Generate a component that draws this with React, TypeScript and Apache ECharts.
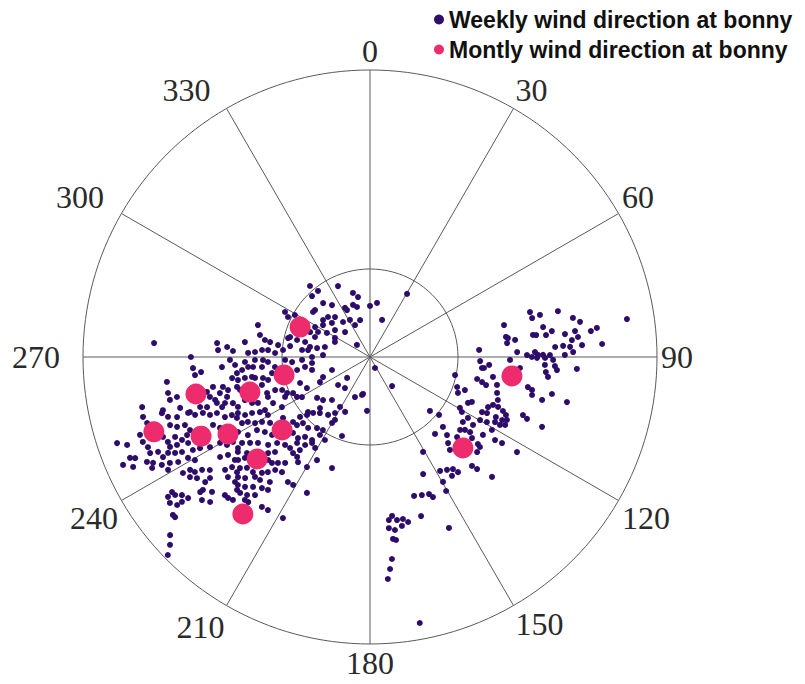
import React, { useEffect, useRef } from "react";
import * as echarts from "echarts";

// Angle axis: degrees, clockwise from north, labelled every 30
const angleStep = 30;
const radiusMax = 100;

// Weekly wind direction points: [radius, angle (deg)]
const weeklyCore: number[][] = [
  [32.4,319.8],[27.1,335.7],[29.3,321.8],[23.1,345.1],[21.3,348.7],[29.3,316.4],[24.9,319.0],[22.4,323.8],[19.2,333.0],[19.1,341.9],
  [25.2,310.5],[25.3,308.3],[20.2,313.6],[18.5,318.8],[20.8,308.2],[15.4,322.4],[14.7,331.6],[13.3,344.9],[33.5,297.9],[31.8,296.0],
  [30.0,299.2],[21.8,298.6],[19.8,304.2],[17.8,311.8],[15.4,307.6],[12.3,315],[20.1,295.7],[17.2,299.2],[22.6,292.6],[20.4,290],
  [13.9,298.5],[13.3,293.2],[16.1,282.5],[21.2,279.5],[18.7,279.6],[23.2,283],[26.1,283.1],[29.3,283],[28.1,277.8],[23.8,275.9],
  [21.7,276.4],[30.4,274.6],[32.3,277.4],[40.6,285.9],[43.9,276.8],[39.1,281.3],[37.1,279.2],[35.2,278.5],[35.6,273.9],[33.1,272.4],
  [37.7,273.7],[40.1,272.5],[42.5,271.9],[20.2,270],[16.4,272.4],[14.0,251.1],[10.8,227.6],[14.8,228.8],[13.9,218.9],[14.9,200.6],
  [13.1,190.7],[17.8,246.9],[19.5,243.4],[20.7,257.4],[22.9,261.3],[25.8,259.9],[28.7,256],[26.0,249.6],[24.5,243.8],[29.6,244.9],
  [27.5,239.5],[23.3,232.3],[20.0,221.5],[24.9,224.4],[28.9,228.4],[35.6,267.2],[37.8,264.7],[42.6,265.3],[44.8,264.2],[34.6,260.7],
  [36.4,257.3],[38.9,255.5],[35.0,250.8],[38.2,248.6],[37.4,244.6],[35.3,240.4],[32.7,244.8],[32.7,249.4],[46.7,260.1],[46.7,255.8],
  [46.1,251],[44.1,248.7],[42.2,247.7],[41.0,243.2],[49.2,249.3],[40.7,259.7],[33.3,264],[29.6,268],[27.2,266.3],[23.7,267.5],
  [20.3,264.1],[40.1,268.5],[43.6,267.7],
  [25.5,30.4],[19.0,7.4],[13.6,18],[4.2,155.6],[12.7,142.8],[18.8,183.2],[17.8,0],[18.0,345.4],[18.2,333.9],[12.3,334.9],[6.2,312.7],
  [20.3,211],[22.2,227.5],[13.5,191.9],
];

const weeklyWest: number[][] = [
  [75.4,273.7],[62.4,270],[53.5,275.2],[53.0,272.6],[49.9,274.0],[47.8,272.5],[61.8,266.4],[59.1,264.9],[61.3,264.1],[71.3,263],
  [51.7,266.1],[48.8,268.8],[47.1,266.6],[46.7,263.1],[48.6,261.3],[52.3,258.5],[55.7,259.2],[58.1,257.9],[57.5,256],[53.8,256.5],
  [50.8,256.9],[47.5,257.3],[71.5,259.9],[71.3,257.9],[68.7,258.3],[81.3,257.6],[68.5,255],[65.6,253],[61.7,253.6],[59.4,252.9],
  [55.7,253.3],[53.0,252.4],[50.4,251.4],[74.5,255.6],[56.0,254.5],[51.7,254.4],[54.4,251.3],[40.9,265.1],[37.3,268.4],[38.0,250.7],
  [31.5,246.5],[29.0,241.3],[28.7,284],[38.0,258.9],[44.2,260.5],[41.7,260.4],
];

const weeklySouthWest: number[][] = [
  [81.8,255.2],[75.1,254.9],[73.4,253.5],[70.4,252.7],[66.3,252.9],[64.2,251.7],[61.4,251.5],[59.3,250.1],[56.8,249.9],[54.7,247.5],
  [52.2,247.2],[51.0,245.4],[81.0,253.5],[73.6,251.2],[71.5,250.1],[68.7,249.8],[67.7,247.9],[59.6,246.6],[57.8,244.7],[93.1,251.2],
  [90.0,250.1],[84.6,251.3],[84.5,249.5],[83.5,247.9],[77.3,248.9],[76.4,247.2],[73.4,247.7],[71.6,246.2],[69.3,246.9],[70.1,244.7],
  [76.4,245.8],[73.9,245.5],[83.6,246.4],[80.9,245.9],[80.1,244.2],[77.9,244.6],[75.7,243.8],[73.4,243.2],[69.7,242.3],[67.2,241.8],
  [64.0,240.6],[60.2,240.2],[58.5,238.4],[56.2,238.2],[55.9,235.4],[90.7,247.2],[89.1,246.7],[93.9,246.4],[91.0,245.1],[85.9,244.8],
  [84.1,244],[81.7,242.6],[78.9,242.1],[76.2,241.3],[72.5,241],[70.8,239.5],[62.8,236.3],[60.1,235.4],[59.2,232.7],[85.2,243],
  [80.6,240.8],[76.7,238.2],[74.0,237.9],[73.0,236.7],[70.5,236.1],[68.3,234.8],[75.4,236.3],[73.6,235],[69.9,232.9],[64.0,232.1],
  [61.5,231.4],[61.3,229.1],[64.8,229.8],[64.1,227.2],[65.5,225],[72.1,232.8],[74.4,231.5],[75.6,231.5],[72.4,229.5],[76.9,229.6],
  [75.2,227.8],[69.8,226.4],[69.7,225.2],[69.0,223.8],[83.5,235.7],[85.6,235.3],[83.2,234.7],[81.3,233.7],[80.2,232.2],[86.3,233.9],
  [84.7,232.5],[82.7,232.4],[88.0,231.3],[87.9,230.6],[93.3,228.3],[95.6,226.8],[98.6,225.6],
];

const weeklySouthWestInner: number[][] = [
  [50.0,247],[48.0,245.1],[45.5,244.6],[42.9,243.4],[40.9,240.4],[37.0,235],[35.1,229.8],[32.1,229.4],[29.8,227.4],[27.8,225.5],
  [26.2,221.8],[24.9,215.9],[23.0,212],[21.0,204.4],[50.2,242.7],[48.2,242],[46.2,240.1],[43.9,239],[41.7,236.6],[34.8,227],
  [32.8,225.4],[32.8,221.1],[30.9,216.7],[30.3,212.8],[26.5,209.9],[25.1,209.1],[52.9,240.4],[50.5,237.4],[46.9,237.1],[45.0,234.5],
  [43.6,231.5],[37.7,225.4],[37.8,221.6],[35.9,219.1],[35.3,214.9],[32.3,212.7],[32.9,208.5],[29.2,199.5],[53.7,236.1],[51.4,234.4],
  [49.2,232.5],[46.9,229.2],[44.1,227.2],[42.6,224],[42.2,221.3],[39.3,220.3],[38.1,216.4],[36.1,214],[37.0,211.1],[56.7,234.3],
  [54.4,232],[48.8,226.7],[46.8,225],[42.9,218.7],[40.6,217],[43.1,216.1],[44.4,214.4],[58.3,232],[56.0,231.1],[50.5,224.7],
  [50.3,222.8],[48.9,221],[47.3,218.7],[40.4,207.2],[44.2,209.8],[40.9,198.9],[59.6,229.5],[57.7,228],[57.2,225.5],[55.2,223],
  [53.6,221.6],[51.4,220],[50.5,217.4],[52.1,213.3],[52.0,211],[52.2,204.9],[62.2,227.7],[60.6,225.9],[57.9,223.8],[57.5,221.8],
  [55.8,218.7],[64.1,225.9],[62.8,223.9],[60.9,222],[59.2,219.5],[58.4,217.5],[65.5,223.7],[64.4,221.7],[62.6,219.8],[66.2,221.2],
  [66.0,220],[64.4,215.8],[64.1,213.7],[63.8,208.4],
];

const weeklyEast: number[][] = [
  [57.9,74.3],[61.0,76.1],[67.4,76.3],[58.1,76.5],[72.0,79.1],[74.2,80.5],[90.5,81.6],[79.7,82.7],[77.5,83.3],[48.0,76.6],
  [61.2,80.2],[64.0,81.9],[68.4,83.3],[72.0,82.8],[72.8,84.5],[70.6,85.2],[57.3,82.3],[58.4,82.5],[61.8,82.9],[47.9,81.6],
  [48.5,82.2],[50.9,83.3],[48.0,84.2],[64.6,86.9],[67.4,86.7],[69.8,87.1],[74.0,86.8],[81.0,86.8],[70.8,88.6],[38.1,86.3],
  [51.3,88.1],[54.7,89.3],[57.5,88.3],[58.5,89.3],[58.2,90.3],[56.4,90],[60.3,89.3],[62.7,89.4],[61.0,90.3],[67.9,89.4],
  [63.8,90.9],[38.4,92.1],[39.2,95.6],[39.9,95.5],[41.6,93.8],[48.8,91.2],[52.4,94.2],[61.0,92.6],[64.5,92.8],[65.3,94.0],
  [61.5,94.9],[72.2,93.3],[30.3,102],[38.1,101.6],[40.0,102.6],[41.6,103.6],[43.4,99.2],[45.3,102.4],[62.4,96.4],[32.1,109],
  [33.1,112.2],[35.0,109.2],[56.0,100.8],[57.6,101.5],[58.0,103.2],[61.8,104],[64.7,101.5],[70.4,102.9],[46.0,105.8],[47.0,108.6],
  [46.0,111.3],[44.7,113],[38.8,113.8],[37.7,115.1],[36.0,119.5],[37.3,120.9],[28.1,132],[31.4,130],[47.9,111.3],[50.0,112.1],
  [51.5,113.1],[52.5,114.7],[51.0,115.5],[48.6,115.5],[45.2,115.6],[43.5,116.2],[57.0,110.8],[58.8,111.5],[64.7,112.1],[40.2,121.9],
  [39.5,125],[43.0,123.4],[44.2,119.8],[46.6,119.1],[49.1,117.5],[51.1,117.6],[52.7,116.7],[40.4,129],[41.7,127.5],[43.6,126.9],
  [49.5,120.9],[35.2,133.8],[35.1,139.8],[38.2,135.4],[41.2,132.6],[47.8,124.6],[44.1,132.8],[45.4,128.5],[48.3,128.9],[49.5,129.3],
  [52.3,123.6],[54.9,123.1],[61.0,122.9],[37.9,150.8],[40.5,137.8],[42.7,139.3],[47.1,133.5],[49.9,131.6],[45.4,133.1],
];

const weeklySouth: number[][] = [
  [44.8,155.6],[46.6,148.4],[47.6,145.7],[48.6,143.5],[50.5,142.6],[50.3,145.4],[52.0,136.9],[54.0,136.3],[59.6,134.5],[50.4,149.7],
  [53.7,150.4],[50.8,162.4],[51.4,159.4],[52.0,156.7],[53.5,155.8],[58.2,162.2],[65.6,155.2],[55.9,172.1],[57.2,173.4],[57.6,170.6],
  [57.6,168.5],[59.0,167],[59.9,169.3],[60.0,173.7],[60.9,171.8],[63.9,172.8],[64.4,171.9],[70.8,173.8],[74.2,174.6],[77.6,175.4],
  [94.3,169.4],
];

// Monthly wind direction points: [radius, angle (deg)]
const monthly: number[][] = [
  [26.5,293.2],[62.0,258.0],[43.6,253.7],[30.6,258.2],[79.7,250.9],[65.0,244.9],
  [56.3,241.5],[39.8,230.3],[53.0,227.9],[70.4,219.0],[49.9,97.6],[45.3,134.4],
];

const weeklyName = "Weekly wind direction at bonny";
const monthlyName = "Montly wind direction at bonny";

export default function App() {
  const ref = useRef<HTMLDivElement>(null);
  useEffect(() => {
    if (!ref.current) return;
    const chart = echarts.init(ref.current, null, { renderer: "svg" });
    const weekly = [
      ...weeklyCore,
      ...weeklyWest,
      ...weeklySouthWest,
      ...weeklySouthWestInner,
      ...weeklyEast,
      ...weeklySouth,
    ];
    const lineColor = "#5a5a5a";
    const labelFont = {
      fontFamily: "Liberation Serif, serif",
      fontSize: 32,
      lineHeight: 30,
      color: "#2a2a2a",
    };
    chart.setOption({
      animation: false,
      backgroundColor: "#ffffff",
      legend: {
        orient: "vertical",
        left: 429,
        top: 3,
        itemGap: 7,
        itemWidth: 10,
        itemHeight: 10,
        icon: "circle",
        textStyle: {
          fontFamily: "Liberation Sans, Arial, sans-serif",
          fontWeight: "bold",
          fontSize: 23,
          color: "#111",
        },
        data: [weeklyName, monthlyName],
      },
      polar: [
        { center: [370, 357], radius: 287 },
        { center: [370, 357], radius: 88 },
      ],
      angleAxis: [
        {
          polarIndex: 0,
          type: "value",
          min: 0,
          max: 360,
          interval: angleStep,
          startAngle: 90,
          clockwise: true,
          axisLine: { show: true, lineStyle: { color: lineColor, width: 1 } },
          axisTick: { show: false },
          splitLine: { show: true, lineStyle: { color: lineColor, width: 1 } },
          axisLabel: {
            margin: 4,
            ...labelFont,
            formatter: (v: number) => {
              if (v === 270) return "{w|" + v + "}";
              if (v === 300 || v === 330) return "{n|" + v + "}";
              if (v === 210) return "{sw|" + v + "}";
              return "{d|" + v + "}";
            },
            rich: {
              d: { ...labelFont },
              w: { ...labelFont, padding: [0, 19, 0, 0] },
              n: { ...labelFont, padding: [0, 14, 0, 0] },
              sw: { ...labelFont, padding: [6, 0, 0, 0] },
            },
          },
        },
        {
          polarIndex: 1,
          type: "value",
          min: 0,
          max: 360,
          interval: angleStep,
          startAngle: 90,
          axisLine: { show: true, lineStyle: { color: lineColor, width: 1 } },
          axisTick: { show: false },
          axisLabel: { show: false },
          splitLine: { show: false },
        },
      ],
      radiusAxis: [
        {
          polarIndex: 0,
          type: "value",
          min: 0,
          max: radiusMax,
          axisLine: { show: false },
          axisTick: { show: false },
          axisLabel: { show: false },
          splitLine: { show: false },
        },
        {
          polarIndex: 1,
          type: "value",
          min: 0,
          max: radiusMax,
          axisLine: { show: false },
          axisTick: { show: false },
          axisLabel: { show: false },
          splitLine: { show: false },
        },
      ],
      series: [
        {
          name: weeklyName,
          type: "scatter",
          coordinateSystem: "polar",
          polarIndex: 0,
          data: weekly,
          symbolSize: 6,
          itemStyle: { color: "#2d0c6c", opacity: 1 },
          z: 2,
        },
        {
          name: monthlyName,
          type: "scatter",
          coordinateSystem: "polar",
          polarIndex: 0,
          data: monthly,
          symbolSize: 21,
          itemStyle: { color: "#ee2b6c", opacity: 1 },
          z: 3,
        },
      ],
    });
    return () => chart.dispose();
  }, []);
  return (
    <div
      ref={ref}
      style={{ position: "fixed", left: 0, top: 0, width: 805, height: 684, background: "#fff" }}
    />
  );
}
